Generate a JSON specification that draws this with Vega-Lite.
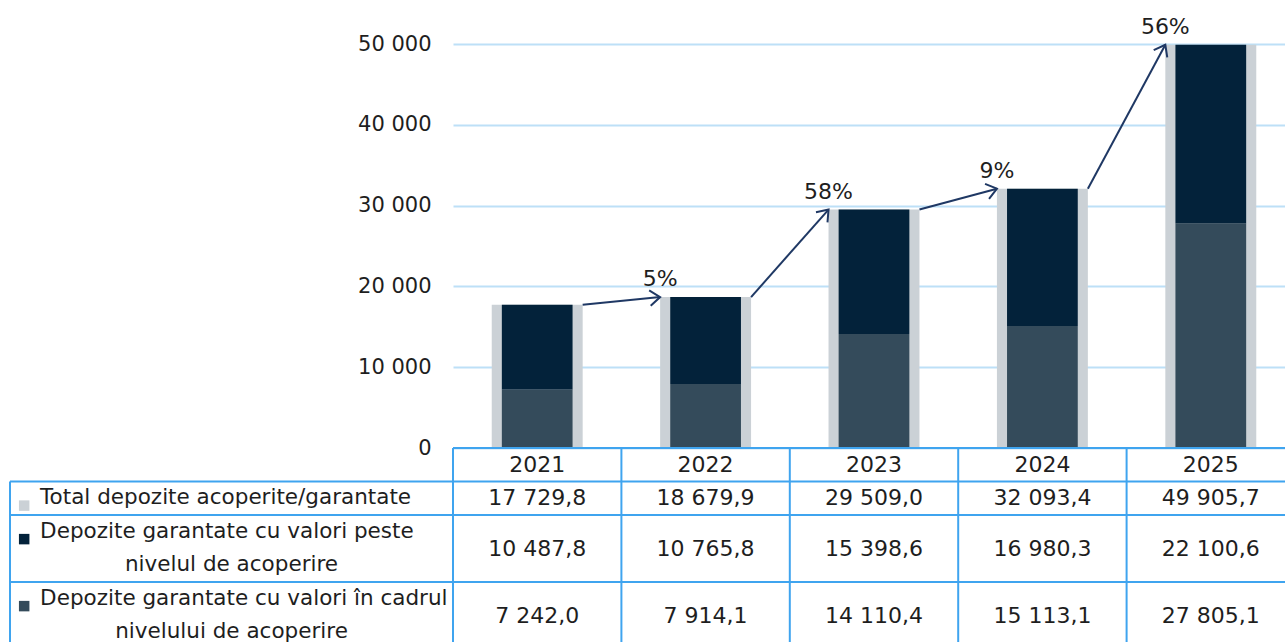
{
  "$schema": "https://vega.github.io/schema/vega-lite/v6.json",
  "padding": {"left": 9, "top": 15, "right": -11, "bottom": -7},
  "background": "white",
  "config": {
    "view": {"stroke": null},
    "font": "DejaVu Sans",
    "text": {"font": "DejaVu Sans", "fontSize": 22, "color": "#1E1E1E"},
    "locale": {"number": {"decimal": ",", "thousands": " ", "grouping": [3], "currency": ["", ""]}}
  },
  "datasets": {
    "years": [
      {"year": "2021", "total": 17729.8, "above": 10487.8, "within": 7242.0},
      {"year": "2022", "total": 18679.9, "above": 10765.8, "within": 7914.1},
      {"year": "2023", "total": 29509.0, "above": 15398.6, "within": 14110.4},
      {"year": "2024", "total": 32093.4, "above": 16980.3, "within": 15113.1},
      {"year": "2025", "total": 49905.7, "above": 22100.6, "within": 27805.1}
    ],
    "arrows": [
      {"from": "2021", "to": "2022", "t0": 17729.8, "t1": 18679.9, "pct": "5%"},
      {"from": "2022", "to": "2023", "t0": 18679.9, "t1": 29509.0, "pct": "58%"},
      {"from": "2023", "to": "2024", "t0": 29509.0, "t1": 32093.4, "pct": "9%"},
      {"from": "2024", "to": "2025", "t0": 32093.4, "t1": 49905.7, "pct": "56%"}
    ],
    "hdr1": [
      {"row": "total", "text": "Total depozite acoperite/garantate"},
      {"row": "r2a", "text": "Depozite garantate cu valori peste"},
      {"row": "r3a", "text": "Depozite garantate cu valori în cadrul"}
    ],
    "hdr2": [
      {"row": "r2b", "text": "nivelul de acoperire"},
      {"row": "r3b", "text": "nivelului de acoperire"}
    ],
    "keys": [{"row": "total"}, {"row": "r2a"}, {"row": "r3a"}],
    "hl": [{"row": "year"}, {"row": "total"}, {"row": "r2a"}, {"row": "r3a"}]
  },
  "columns": 2,
  "spacing": 0,
  "bounds": "flush",
  "concat": [
    {
      "width": 443,
      "height": 404,
      "data": {"values": []},
      "mark": "point"
    },
    {
      "width": 842,
      "height": 404,
      "data": {"name": "years"},
      "layer": [
        {
          "mark": {"type": "bar", "color": "#CBD1D6", "width": {"band": 0.54}},
          "encoding": {
            "x": {"field": "year", "type": "nominal", "scale": {"domain": ["2021", "2022", "2023", "2024", "2025"], "paddingInner": 0, "paddingOuter": 0}, "axis": null},
            "y": {"field": "total", "type": "quantitative", "scale": {"domain": [0, 50000], "nice": false},
              "axis": {"values": [0, 10000, 20000, 30000, 40000, 50000], "format": ",d", "grid": true, "gridColor": "#BDE0F7", "gridWidth": 2, "domain": false, "ticks": false, "labelPadding": 22, "labelFontSize": 21, "labelFont": "DejaVu Sans", "labelColor": "#1E1E1E", "title": null}}
          }
        },
        {
          "mark": {"type": "bar", "color": "#344B5B", "width": {"band": 0.42}},
          "encoding": {
            "x": {"field": "year", "type": "nominal", "axis": null},
            "y": {"field": "within", "type": "quantitative"}
          }
        },
        {
          "mark": {"type": "bar", "color": "#03223A", "width": {"band": 0.42}},
          "encoding": {
            "x": {"field": "year", "type": "nominal", "axis": null},
            "y": {"field": "within", "type": "quantitative"},
            "y2": {"field": "total"}
          }
        },
        {
          "data": {"name": "arrows"},
          "mark": {"type": "rule", "color": "#1F3864", "strokeWidth": 2},
          "encoding": {
            "x": {"field": "from", "type": "nominal", "bandPosition": 0.77, "axis": null},
            "x2": {"field": "to", "bandPosition": 0.23},
            "y": {"field": "t0", "type": "quantitative"},
            "y2": {"field": "t1"}
          }
        },
        {
          "data": {"name": "arrows"},
          "mark": {"type": "point", "shape": "M-1,-0.75L0,0L-1,0.75", "filled": false, "stroke": "#1F3864", "strokeWidth": 2, "size": 420, "opacity": 1,
            "angle": {"expr": "-atan2((datum.t1 - datum.t0) * 404 / 50000, 0.46 * 168.4) * 180 / PI"}},
          "encoding": {
            "x": {"field": "to", "type": "nominal", "bandPosition": 0.23, "axis": null},
            "y": {"field": "t1", "type": "quantitative"}
          }
        },
        {
          "data": {"name": "arrows"},
          "mark": {"type": "text", "baseline": "alphabetic", "dy": -11, "fontSize": 22},
          "encoding": {
            "x": {"field": "to", "type": "nominal", "bandPosition": 0.23, "axis": null},
            "y": {"field": "t1", "type": "quantitative"},
            "text": {"field": "pct"}
          }
        }
      ]
    },
    {
      "width": 443,
      "height": 201,
      "layer": [
        {
          "data": {"name": "hdr1"},
          "mark": {"type": "text", "align": "left", "baseline": "middle", "fontSize": 21.5},
          "encoding": {
            "x": {"datum": 0.068, "type": "quantitative", "scale": {"domain": [0, 1], "nice": false, "zero": false}, "axis": null},
            "y": {"field": "row", "type": "nominal", "scale": {"domain": ["year", "total", "r2a", "r2b", "r3a", "r3b"], "paddingInner": 0, "paddingOuter": 0}, "axis": null},
            "text": {"field": "text"}
          }
        },
        {
          "data": {"name": "hdr2"},
          "mark": {"type": "text", "align": "center", "baseline": "middle", "fontSize": 21.5},
          "encoding": {
            "x": {"datum": 0.5, "type": "quantitative"},
            "y": {"field": "row", "type": "nominal"},
            "text": {"field": "text"}
          }
        },
        {
          "data": {"name": "keys"},
          "mark": {"type": "point", "shape": "square", "filled": true, "size": 110, "opacity": 1},
          "encoding": {
            "x": {"datum": 0.032, "type": "quantitative"},
            "y": {"field": "row", "type": "nominal", "bandPosition": 0.72},
            "color": {"field": "row", "type": "nominal", "scale": {"domain": ["total", "r2a", "r3a"], "range": ["#CBD1D6", "#03223A", "#344B5B"]}, "legend": null}
          }
        },
        {
          "data": {"name": "keys"},
          "mark": {"type": "rule", "color": "#3FA4EF", "strokeWidth": 2},
          "encoding": {
            "y": {"field": "row", "type": "nominal", "bandPosition": 0}
          }
        },
        {
          "data": {"values": [{}]},
          "mark": {"type": "rule", "color": "#3FA4EF", "strokeWidth": 2},
          "encoding": {
            "x": {"datum": 0, "type": "quantitative"},
            "y": {"datum": "total", "type": "nominal", "bandPosition": 0},
            "y2": {"datum": "r3b", "bandPosition": 1}
          }
        }
      ]
    },
    {
      "width": 842,
      "height": 201,
      "data": {"name": "years"},
      "layer": [
        {
          "mark": {"type": "text"},
          "encoding": {
            "x": {"field": "year", "type": "nominal", "scale": {"domain": ["2021", "2022", "2023", "2024", "2025"], "paddingInner": 0, "paddingOuter": 0}, "axis": null},
            "y": {"datum": "year", "type": "nominal", "scale": {"domain": ["year", "total", "r2a", "r2b", "r3a", "r3b"], "paddingInner": 0, "paddingOuter": 0}, "axis": null},
            "text": {"field": "year"}
          }
        },
        {
          "mark": {"type": "text"},
          "encoding": {
            "x": {"field": "year", "type": "nominal"},
            "y": {"datum": "total", "type": "nominal"},
            "text": {"field": "total", "type": "quantitative", "format": ",.1f"}
          }
        },
        {
          "mark": {"type": "text"},
          "encoding": {
            "x": {"field": "year", "type": "nominal"},
            "y": {"datum": "r2a", "type": "nominal", "bandPosition": 1},
            "text": {"field": "above", "type": "quantitative", "format": ",.1f"}
          }
        },
        {
          "mark": {"type": "text"},
          "encoding": {
            "x": {"field": "year", "type": "nominal"},
            "y": {"datum": "r3a", "type": "nominal", "bandPosition": 1},
            "text": {"field": "within", "type": "quantitative", "format": ",.1f"}
          }
        },
        {
          "mark": {"type": "rule", "color": "#3FA4EF", "strokeWidth": 2},
          "encoding": {
            "x": {"field": "year", "type": "nominal", "bandPosition": 0}
          }
        },
        {
          "data": {"values": [{}]},
          "mark": {"type": "rule", "color": "#3FA4EF", "strokeWidth": 2},
          "encoding": {
            "x": {"datum": "2025", "type": "nominal", "bandPosition": 1}
          }
        },
        {
          "data": {"name": "hl"},
          "mark": {"type": "rule", "color": "#3FA4EF", "strokeWidth": 2},
          "encoding": {
            "y": {"field": "row", "type": "nominal", "bandPosition": 0}
          }
        }
      ]
    }
  ]
}
